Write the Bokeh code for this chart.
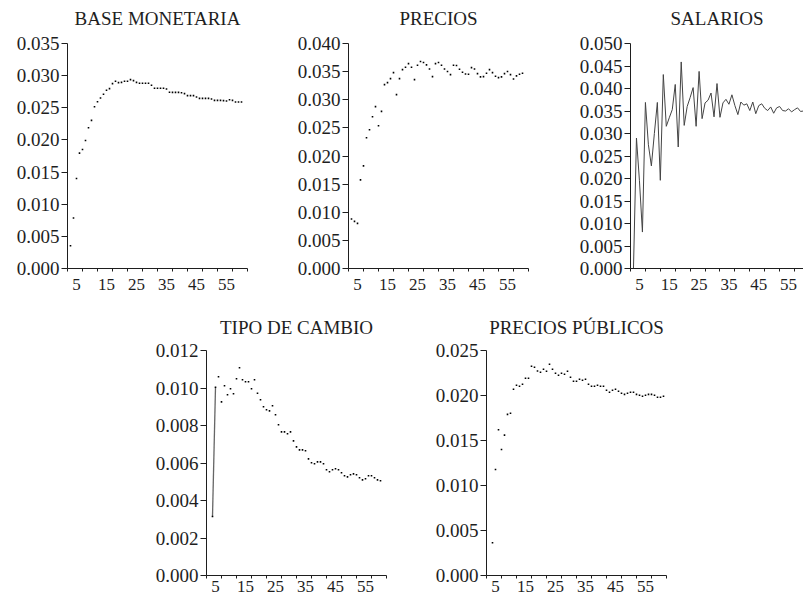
from bokeh.plotting import figure
from bokeh.models import Range1d, FixedTicker, PrintfTickFormatter, Title
from bokeh.layouts import column, row
from bokeh.embed import file_html
from bokeh.resources import INLINE

# ---------------- data ----------------
tick_label_values = [5, 15, 25, 35, 45, 55]

base_periods = list(range(1, 59))
base_monetaria = [0.00354, 0.00785, 0.01399, 0.01794, 0.01851, 0.01992, 0.02189, 0.02304, 0.02517, 0.02595,
                  0.02652, 0.02710, 0.02772, 0.02798, 0.02876, 0.02912, 0.02891, 0.02896, 0.02912, 0.02912,
                  0.02938, 0.02923, 0.02896, 0.02881, 0.02881, 0.02881, 0.02881, 0.02850, 0.02803, 0.02803,
                  0.02803, 0.02803, 0.02792, 0.02741, 0.02740, 0.02740, 0.02740, 0.02735, 0.02720, 0.02689,
                  0.02689, 0.02689, 0.02668, 0.02647, 0.02647, 0.02647, 0.02647, 0.02637, 0.02616, 0.02616,
                  0.02616, 0.02611, 0.02605, 0.02626, 0.02616, 0.02590, 0.02590, 0.02590]

precios_periods = list(range(1, 59))
precios = [0.00880, 0.00838, 0.00802, 0.01575, 0.01825, 0.02324, 0.02467, 0.02698, 0.02877, 0.02538,
           0.02793, 0.03269, 0.03305, 0.03376, 0.03483, 0.03091, 0.03376, 0.03536, 0.03578, 0.03643,
           0.03578, 0.03358, 0.03614, 0.03679, 0.03661, 0.03620, 0.03548, 0.03412, 0.03643, 0.03661,
           0.03614, 0.03548, 0.03501, 0.03447, 0.03614, 0.03608, 0.03542, 0.03489, 0.03459, 0.03453,
           0.03572, 0.03548, 0.03465, 0.03406, 0.03412, 0.03471, 0.03536, 0.03483, 0.03418, 0.03394,
           0.03406, 0.03465, 0.03501, 0.03447, 0.03370, 0.03424, 0.03453, 0.03471]

salarios_periods = list(range(1, 59))
salarios = [0.0000, 0.0290, 0.0195, 0.0081, 0.0369, 0.0275, 0.0228, 0.0300, 0.0369, 0.0196,
            0.0431, 0.0316, 0.0335, 0.0353, 0.0409, 0.0270, 0.0459, 0.0318, 0.0360, 0.0380,
            0.0402, 0.0316, 0.0438, 0.0333, 0.0368, 0.0374, 0.0390, 0.0337, 0.0411, 0.0336,
            0.0368, 0.0376, 0.0365, 0.0386, 0.0362, 0.0342, 0.0370, 0.0363, 0.0366, 0.0351,
            0.0370, 0.0344, 0.0362, 0.0366, 0.0356, 0.0351, 0.0359, 0.0345, 0.0357, 0.0360,
            0.0351, 0.0350, 0.0355, 0.0348, 0.0353, 0.0357, 0.0349, 0.0350]

tipo_periods = list(range(2, 59))
tipo_cambio = [0.00315, 0.01004, 0.01060, 0.00926, 0.01012, 0.00964, 0.00996, 0.00969, 0.01049, 0.01108,
               0.01044, 0.01033, 0.01033, 0.00996, 0.01044, 0.00972, 0.00937, 0.00900, 0.00884, 0.00878,
               0.00905, 0.00857, 0.00804, 0.00766, 0.00766, 0.00756, 0.00766, 0.00718, 0.00686, 0.00670,
               0.00670, 0.00665, 0.00622, 0.00601, 0.00596, 0.00606, 0.00606, 0.00596, 0.00564, 0.00553,
               0.00564, 0.00569, 0.00564, 0.00548, 0.00532, 0.00526, 0.00537, 0.00542, 0.00537, 0.00521,
               0.00510, 0.00516, 0.00532, 0.00532, 0.00521, 0.00510, 0.00505]

pub_periods = list(range(2, 60))
precios_publicos = [0.00364, 0.01178, 0.01620, 0.01400, 0.01560, 0.01790, 0.01802, 0.02069, 0.02114, 0.02103,
                    0.02125, 0.02192, 0.02192, 0.02325, 0.02314, 0.02273, 0.02258, 0.02292, 0.02270, 0.02348,
                    0.02292, 0.02247, 0.02225, 0.02247, 0.02236, 0.02270, 0.02203, 0.02158, 0.02158, 0.02180,
                    0.02169, 0.02180, 0.02125, 0.02103, 0.02103, 0.02114, 0.02103, 0.02103, 0.02058, 0.02036,
                    0.02058, 0.02069, 0.02047, 0.02025, 0.02013, 0.02025, 0.02036, 0.02036, 0.02013, 0.02002,
                    0.01991, 0.02002, 0.02013, 0.02013, 0.02002, 0.01980, 0.01980, 0.01991]

# ---------------- styling ----------------
FONT = "Liberation Serif"
TXT = "#1e1e1e"
PX_PER_UNIT = 3.0


def make_panel(title, width, height, bl, br, bt, bb, ymax, ystep, xlab_standoff, title_standoff, gap):
    frame_w = width - bl - br
    xmax = frame_w / PX_PER_UNIT
    p = figure(width=width, height=height,
               min_border_left=bl, min_border_right=br,
               min_border_top=bt, min_border_bottom=bb,
               x_range=Range1d(0, xmax), y_range=Range1d(0, ymax),
               output_backend="svg", toolbar_location=None)
    if gap > 0:
        # invisible spacer between the frame and the title
        p.add_layout(Title(text=" ", text_font_size="1px", standoff=gap), "above")
    p.add_layout(Title(text=title, align="center", text_font=FONT, text_font_size="19px",
                       text_font_style="normal", text_color=TXT, standoff=title_standoff), "above")
    p.outline_line_color = None
    p.xgrid.visible = False
    p.ygrid.visible = False
    p.background_fill_color = "white"
    p.border_fill_color = "white"

    nt = int(round(ymax / ystep))
    yt = [round(i * ystep, 6) for i in range(nt + 1)]
    p.yaxis.ticker = FixedTicker(ticks=yt)
    p.yaxis.formatter = PrintfTickFormatter(format="%.3f")
    p.yaxis.major_label_text_font = FONT
    p.yaxis.major_label_text_font_size = "19px"
    p.yaxis.major_label_text_color = TXT
    p.yaxis.major_tick_out = 6
    p.yaxis.major_tick_in = 0
    p.yaxis.major_label_standoff = 2
    p.yaxis.minor_tick_line_color = None
    p.yaxis.axis_line_color = TXT
    p.yaxis.major_tick_line_color = TXT

    label_pos = [v - 2 for v in tick_label_values if v - 2 <= xmax]
    minor_pos = [m for m in range(0, 61, 5) if m <= xmax + 0.01]
    p.xaxis.ticker = FixedTicker(ticks=label_pos, minor_ticks=minor_pos)
    p.xaxis.major_label_overrides = {v - 2: str(v) for v in tick_label_values}
    p.xaxis.major_tick_out = 0
    p.xaxis.major_tick_in = 0
    p.xaxis.major_tick_line_color = None
    p.xaxis.minor_tick_out = 3
    p.xaxis.minor_tick_in = 0
    p.xaxis.minor_tick_line_color = TXT
    p.xaxis.axis_line_color = TXT
    p.xaxis.major_label_text_font = FONT
    p.xaxis.major_label_text_font_size = "17px"
    p.xaxis.major_label_text_color = TXT
    p.xaxis.major_label_standoff = xlab_standoff
    return p


def dots(p, x, y):
    p.scatter(x, y, marker="square", size=1.6, fill_color="black", line_color=None)


# top row (frames: 67-247, 348-528, 629-803; y 43-268)
p1 = make_panel("BASE MONETARIA", 288, 300, 67, 41, 43, 32, 0.035, 0.005, 7, 2, 11)
dots(p1, base_periods, base_monetaria)

p2 = make_panel("PRECIOS", 288, 300, 60, 48, 43, 32, 0.040, 0.005, 7, 2, 11)
dots(p2, precios_periods, precios)

p3 = make_panel("SALARIOS", 227, 300, 53, 0, 43, 32, 0.050, 0.005, 7, 2, 11)
p3.line(salarios_periods, salarios, line_color="#444444", line_width=1.0)

# bottom row (frames: 206-386, 486-666; y 350-575)
p4 = make_panel("TIPO DE CAMBIO", 430, 300, 206, 44, 50, 25, 0.012, 0.002, 2, 26, 0)
p4.line(tipo_periods[:2], tipo_cambio[:2], line_color="#666666", line_width=1.3)
dots(p4, tipo_periods, tipo_cambio)

p5 = make_panel("PRECIOS PÚBLICOS", 373, 300, 56, 137, 50, 25, 0.025, 0.005, 2, 26, 0)
dots(p5, pub_periods, precios_publicos)

layout = column(row(p1, p2, p3), row(p4, p5))

open("out.html", "w").write(file_html(layout, INLINE))
